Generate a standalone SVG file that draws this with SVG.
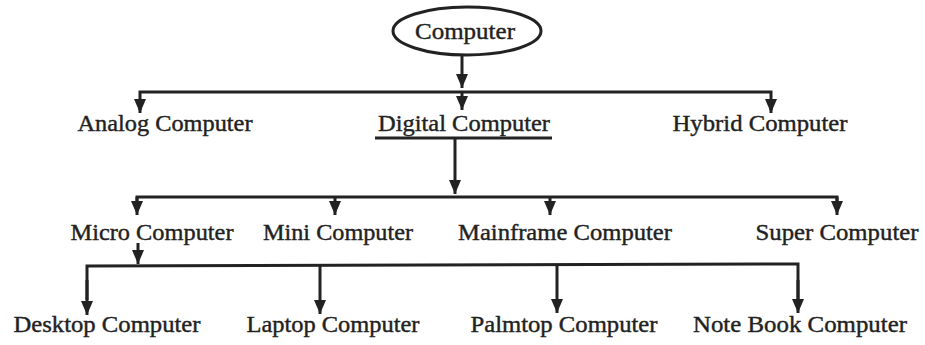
<svg xmlns="http://www.w3.org/2000/svg" width="925" height="345" viewBox="0 0 925 345">
<defs>
<style>
.lbl{font-family:"Liberation Serif","Times New Roman",serif;font-size:23px;fill:#222;text-anchor:middle;stroke:#222;stroke-width:0.4}
.ln{stroke:#222;stroke-width:3;fill:none}
.arr{stroke:#222;stroke-width:3;fill:none;marker-end:url(#ah)}
</style>
<marker id="ah" viewBox="0 0 14 12" refX="14" refY="6" markerWidth="14" markerHeight="12" markerUnits="userSpaceOnUse" orient="auto">
<path d="M0,0 L14,6 L0,12 z" fill="#222"/>
</marker>
</defs>
<rect width="925" height="345" fill="#fff"/>
<g id="connectors">
<line class="arr" x1="462" y1="55" x2="462" y2="88"/>
<polyline class="ln" points="140,110 140,92 771,92 771,110"/>
<line class="arr" x1="140" y1="100" x2="140" y2="113"/>
<line class="arr" x1="462" y1="92" x2="462" y2="110"/>
<line class="arr" x1="771" y1="100" x2="771" y2="113"/>
<line class="arr" x1="455" y1="138" x2="455" y2="194"/>
<polyline class="ln" points="137,205 137,197 837,197 837,205"/>
<line class="arr" x1="137" y1="197" x2="137" y2="215"/>
<line class="arr" x1="335" y1="197" x2="335" y2="215"/>
<line class="arr" x1="550" y1="197" x2="550" y2="215"/>
<line class="arr" x1="837" y1="197" x2="837" y2="215"/>
<line class="arr" x1="138" y1="243" x2="138" y2="264"/>
<polyline class="ln" points="87,300 87,266 798,264 798,300"/>
<line class="arr" x1="87" y1="280" x2="87" y2="315"/>
<line class="arr" x1="320" y1="266" x2="320" y2="314"/>
<line class="arr" x1="557" y1="265" x2="557" y2="313"/>
<line class="arr" x1="798" y1="280" x2="798" y2="313"/>
</g>
<g id="computer">
<ellipse cx="467" cy="31" rx="74" ry="24" fill="#fff" stroke="#222" stroke-width="3"/>
<text class="lbl" x="465" y="39" textLength="100" lengthAdjust="spacingAndGlyphs">Computer</text>
</g>
<g id="analog"><text class="lbl" x="165" y="131" textLength="175" lengthAdjust="spacingAndGlyphs">Analog Computer</text></g>
<g id="digital">
<text class="lbl" x="464" y="131" textLength="172" lengthAdjust="spacingAndGlyphs">Digital Computer</text>
<line class="ln" x1="375" y1="138" x2="552" y2="138"/>
</g>
<g id="hybrid"><text class="lbl" x="760" y="131" textLength="175" lengthAdjust="spacingAndGlyphs">Hybrid Computer</text></g>
<g id="micro"><text class="lbl" x="152" y="240" textLength="163" lengthAdjust="spacingAndGlyphs">Micro Computer</text></g>
<g id="mini"><text class="lbl" x="338" y="240" textLength="150" lengthAdjust="spacingAndGlyphs">Mini Computer</text></g>
<g id="mainframe"><text class="lbl" x="565" y="240" textLength="214" lengthAdjust="spacingAndGlyphs">Mainframe Computer</text></g>
<g id="super"><text class="lbl" x="837" y="240" textLength="163" lengthAdjust="spacingAndGlyphs">Super Computer</text></g>
<g id="desktop"><text class="lbl" x="107" y="332" textLength="187" lengthAdjust="spacingAndGlyphs">Desktop Computer</text></g>
<g id="laptop"><text class="lbl" x="333" y="332" textLength="173" lengthAdjust="spacingAndGlyphs">Laptop Computer</text></g>
<g id="palmtop"><text class="lbl" x="564" y="332" textLength="187" lengthAdjust="spacingAndGlyphs">Palmtop Computer</text></g>
<g id="notebook"><text class="lbl" x="800" y="332" textLength="214" lengthAdjust="spacingAndGlyphs">Note Book Computer</text></g>
</svg>
